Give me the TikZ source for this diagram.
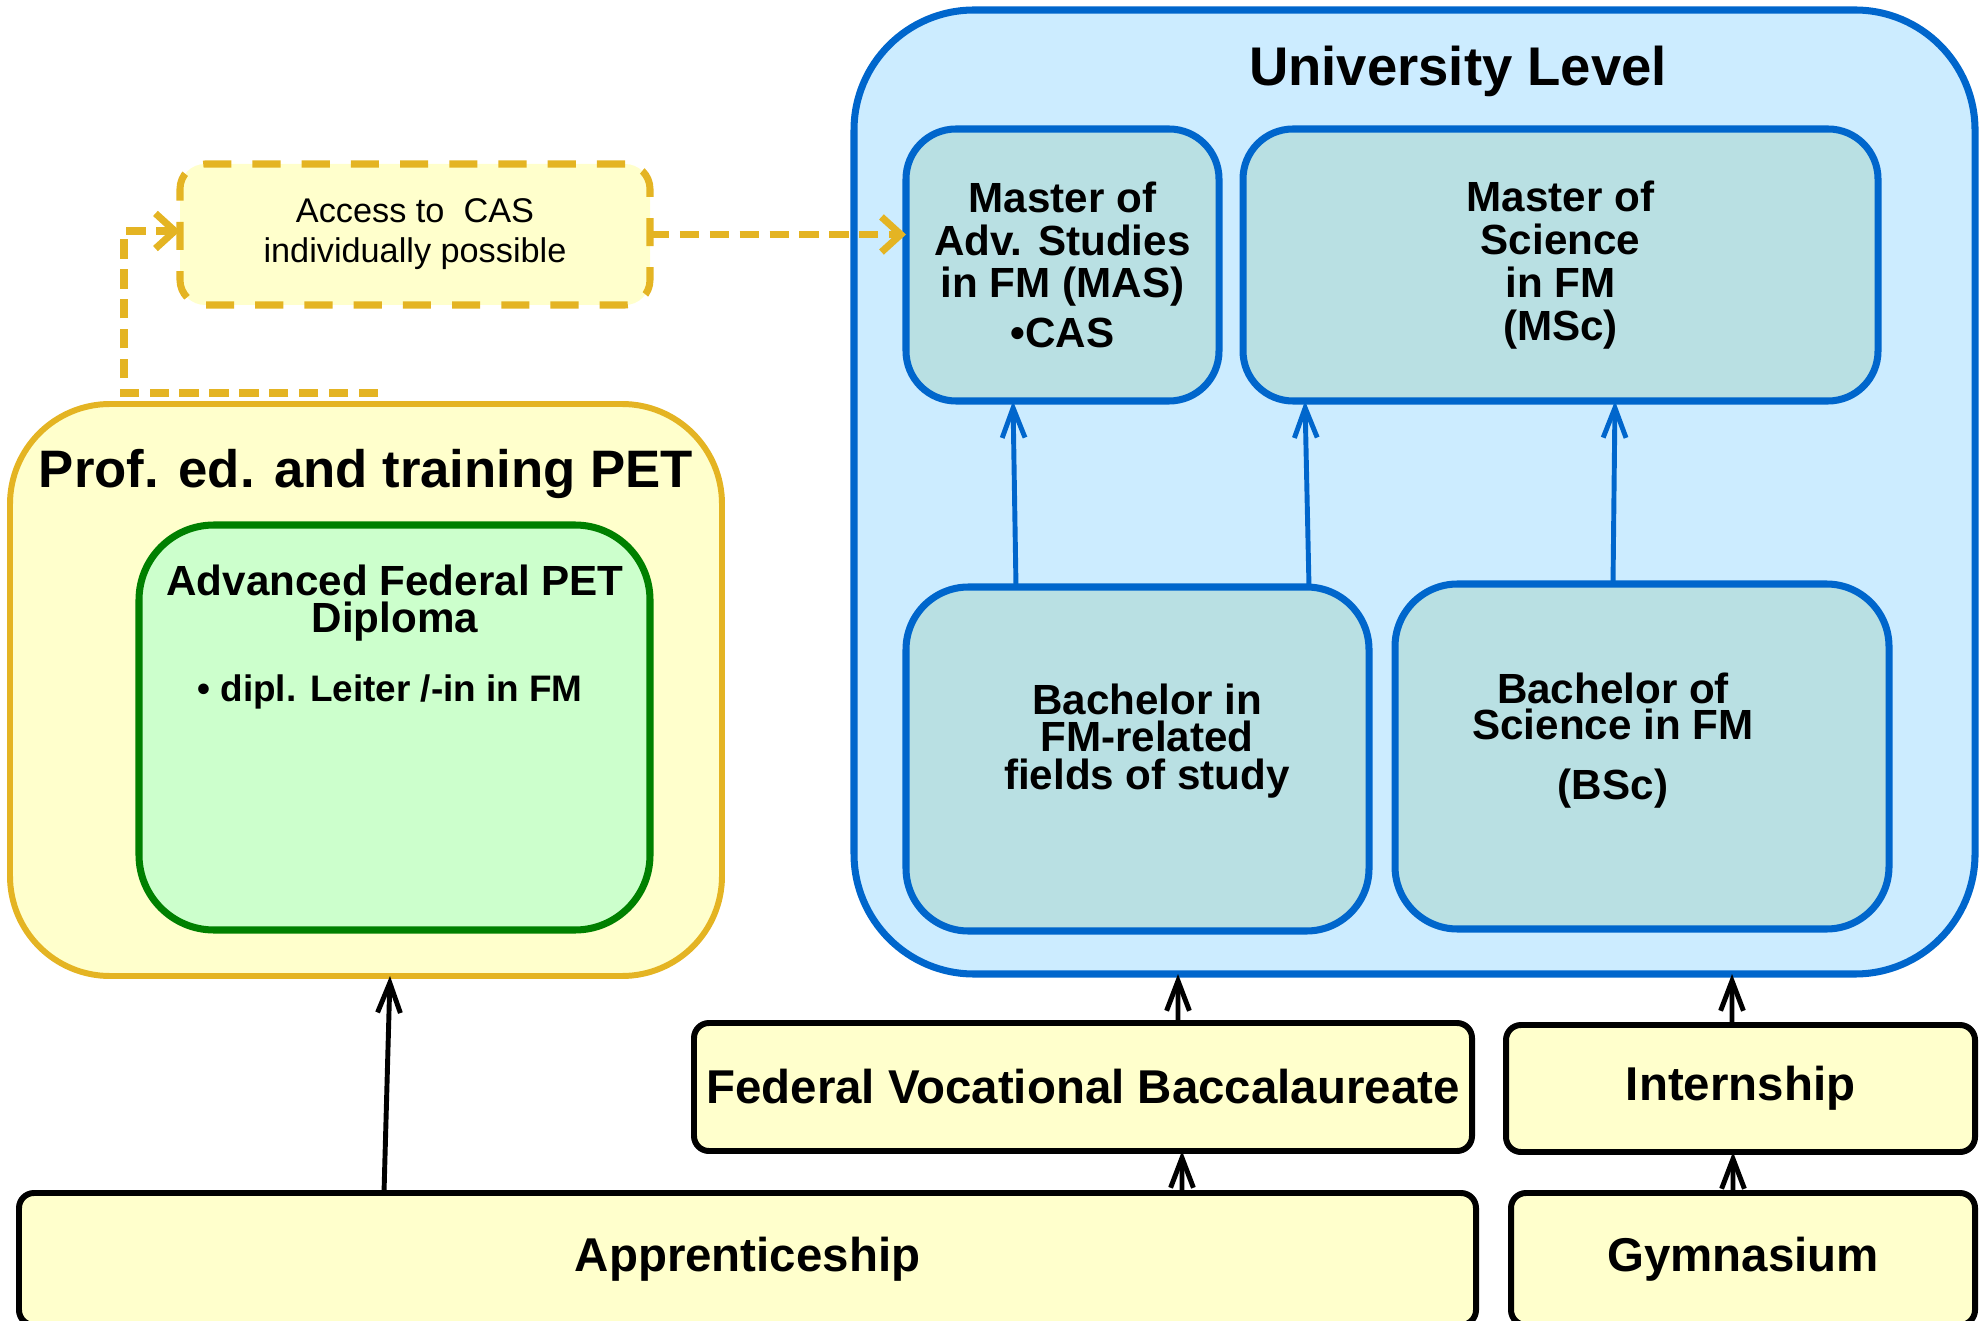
\documentclass[tikz,border=0pt]{standalone}
\usepackage{fontspec}
\setmainfont{Liberation Sans}
\usepackage{xcolor}
\usetikzlibrary{positioning}
\usetikzlibrary{calc,arrows.meta,backgrounds}

\definecolor{unifill}{HTML}{CCECFF}
\definecolor{uniline}{HTML}{0066CC}
\definecolor{degfill}{HTML}{B9E0E3}
\definecolor{petfill}{HTML}{FFFFCC}
\definecolor{petline}{HTML}{E4B423}
\definecolor{dipline}{HTML}{008000}
\definecolor{dipfill}{HTML}{CCFFCC}

\begin{document}
\begin{tikzpicture}[every node/.style={outer sep=0pt,inner sep=0pt},
		level/.style={draw,line width=4pt,rounded corners=2.4cm},
		degree/.style={draw=uniline,fill=degfill,line width=4pt,rounded corners=1cm},
		entry/.style={draw=black,fill=petfill,line width=3.4pt,rounded corners=0.3cm,
		font=\fontsize{27}{30}\selectfont\bfseries},
		txt/.style={align=center,font=\fontsize{24}{24.4}\selectfont\bfseries},
		uparrow/.style={line width=2.8pt,-{Straight Barb[length=17pt,width=13pt,line width=2.8pt]}},
		dasharrow/.style={draw=petline,line width=4pt,dash pattern=on 11pt off 6pt,
		-{Straight Barb[length=11pt,width=20pt,line width=4pt]}},
		]
		\useasboundingbox (0,0) rectangle (39.58,26.4);

		\begin{scope}
			\path (28.29,16.56) node[level,draw=uniline,fill=unifill,minimum width=22.42cm,minimum height=19.28cm] (uni){};
			\node[font=\fontsize{31}{31}\selectfont\bfseries] (unititle) at ($(uni.north)+(0.87,-1.22)$) {University Level};
			\path (21.25,21.1) node[degree,txt,minimum width=6.26cm,minimum height=5.44cm] (mas){Master of\\Adv. Studies\\in FM (MAS)\\[4pt]•CAS};
			\path (31.21,21.1) node[degree,txt,minimum width=12.7cm,minimum height=5.44cm] (msc){Master of\\Science\\in FM\\(MSc)};
			\path (22.75,11.22) node[degree,rounded corners=1.25cm,minimum width=9.26cm,minimum height=6.88cm] (bfm){};
			\node[txt,font=\fontsize{24}{21.5}\selectfont\bfseries] (bfmtext) at ($(bfm.center)+(0.19,0.36)$) {Bachelor in\\FM-related\\fields of study};
			\path (32.84,11.27) node[degree,rounded corners=1.25cm,minimum width=9.88cm,minimum height=6.9cm] (bsc){};
			\node[txt,font=\fontsize{24}{21}\selectfont\bfseries] (bsctext) at ($(bsc.center)+(-0.58,0.32)$) {Bachelor of\\Science in FM\\[13pt](BSc)};
			\draw[uparrow,uniline] ($(bfm.north west)+(2.2,0)$) -- ($(mas.south west)+(2.14,0)$);
			\draw[uparrow,uniline] ($(bfm.north west)+(8.06,0)$) -- ($(msc.south west)+(1.24,0)$);
			\draw[uparrow,uniline] ($(bsc.north)+(-0.58,0)$) -- ($(msc.south west)+(7.44,0)$);
		\end{scope}

		\begin{scope}
			\path (7.32,12.6) node[level,draw=petline,fill=petfill,line width=3.4pt,rounded corners=2cm,minimum width=14.24cm,minimum height=11.44cm] (pet){};
			\node[font=\fontsize{30}{30}\selectfont\bfseries] (pettitle) at ($(pet.north)+(0,-1.4)$) {Prof. ed. and training PET};
			\path (7.89,11.85) node[draw=dipline,fill=dipfill,line width=4pt,rounded corners=1.5cm,minimum width=10.22cm,minimum height=8.1cm] (dip){};
			\node[txt,font=\fontsize{24}{21.5}\selectfont\bfseries] (diptext) at ($(dip.north)+(0.01,-1.56)$) {Advanced Federal PET\\Diploma};
			\node[font=\fontsize{21}{21}\selectfont\bfseries] (dipitem) at ($(dip.north)+(-0.09,-3.34)$) {• dipl. Leiter /-in in FM};
			\path (8.3,21.71) node[draw=petline,fill=petfill,line width=4pt,dash pattern=on 16pt off 12pt,rounded corners=0.5cm,
			minimum width=9.4cm,minimum height=2.82cm,align=center,font=\fontsize{19.5}{22.7}\selectfont] (cas){Access to\ \ CAS\\individually possible};
			\draw[dasharrow] ($(pet.north)+(0.24,0.22)$) -| ($(cas.west)+(-1.12,0.07)$) -- ($(cas.west)+(0,0.07)$);
			\draw[dasharrow] (cas.east) -- (cas.east -| mas.west);
		\end{scope}

		\begin{scope}
			\path (21.66,4.66) node[entry,minimum width=15.56cm,minimum height=2.56cm] (fvb){Federal Vocational Baccalaureate};
			\path (34.81,4.63) node[entry,minimum width=9.38cm,minimum height=2.54cm] (int){Internship};
			\path (14.95,1.22) node[entry,minimum width=29.14cm,minimum height=2.64cm] (app){Apprenticeship};
			\path (34.86,1.22) node[entry,minimum width=9.28cm,minimum height=2.64cm] (gym){Gymnasium};
			\draw[uparrow] ($(app.north west)+(7.3,0)$) -- ($(pet.south)+(0.48,0)$);
			\draw[uparrow] ($(app.north west)+(23.26,0)$) -- ($(fvb.south west)+(9.76,0)$);
			\draw[uparrow] ($(fvb.north west)+(9.68,0)$) -- ($(uni.south west)+(6.48,0)$);
			\draw[uparrow] ($(gym.north west)+(4.44,0)$) -- ($(int.south west)+(4.54,0)$);
			\draw[uparrow] ($(int.north west)+(4.52,0)$) -- ($(uni.south west)+(17.56,0)$);
		\end{scope}

	\end{tikzpicture}
\end{document}
